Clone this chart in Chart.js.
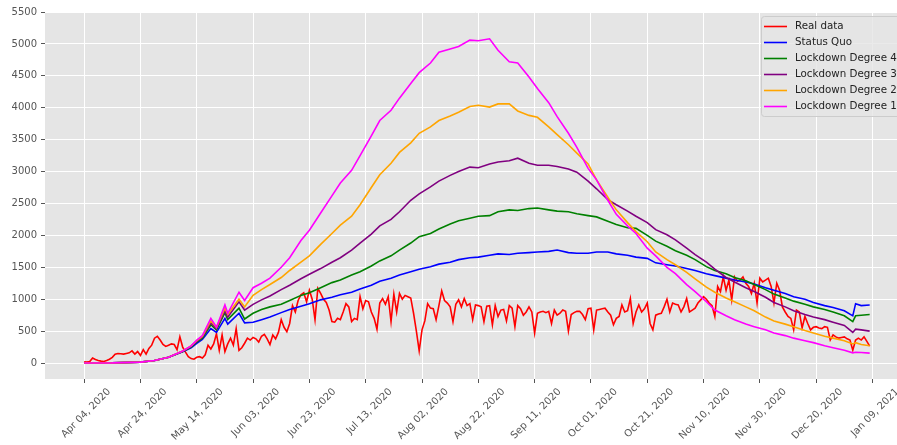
<!DOCTYPE html>
<html>
<head>
  <meta charset="utf-8" />
  <title>Real data vs lockdown scenarios</title>
  <style>
    html, body { margin: 0; padding: 0; overflow: hidden; background: #fff; }
  </style>
</head>
<body>
  <canvas id="stage" width="916" height="445"></canvas>

  <script src="https://cdn.jsdelivr.net/npm/chart.js@4.4.0/dist/chart.umd.min.js"></script>
  <script>
    // x axis: days since Apr 04, 2020
    const tickDays = [0, 20, 40, 60, 80, 100, 120, 140, 160, 180, 200, 220, 240, 260, 280];
    const tickLabels = ['Apr 04, 2020', 'Apr 24, 2020', 'May 14, 2020', 'Jun 03, 2020', 'Jun 23, 2020',
      'Jul 13, 2020', 'Aug 02, 2020', 'Aug 22, 2020', 'Sep 11, 2020', 'Oct 01, 2020', 'Oct 21, 2020',
      'Nov 10, 2020', 'Nov 30, 2020', 'Dec 20, 2020', 'Jan 09, 2021'];
    const yTicks = [0, 500, 1000, 1500, 2000, 2500, 3000, 3500, 4000, 4500, 5000, 5500];

    // real data, one value per day from day 0
    const realData = [
      20, 15, 25, 80, 55, 40, 30, 25, 40, 60,
      90, 140, 150, 145, 140, 150, 160, 190, 140, 180,
      120, 210, 140, 230, 280, 390, 420, 360, 290, 260,
      280, 300, 290, 210, 410, 250, 170, 100, 70, 60,
      90, 100, 80, 130, 280, 220, 300, 460, 200, 440,
      180, 300, 390, 280, 540, 200, 240, 310, 390, 360,
      400, 380, 330, 420, 450, 380, 290, 440, 380, 480,
      680, 560, 490, 620, 900, 800, 980, 1070, 1100, 960,
      1140, 1000, 680, 1170, 1090, 1000, 950, 830, 650, 640,
      700, 680, 800, 930, 880, 650, 700, 680, 1040, 850,
      980, 960, 800, 700, 530, 940, 1010, 920, 1040, 650,
      1080, 800, 1090, 1000, 1060, 1040, 1020, 780, 500, 190,
      520, 660, 930, 860, 850, 680, 900, 1130, 980, 940,
      880, 650, 920, 990, 880, 1010, 900, 930, 680, 910,
      900, 880, 650, 890, 900, 600, 900, 730, 830, 840,
      660, 900, 860, 570, 900, 850, 750, 800, 880, 800,
      470, 780, 800, 810, 790, 810, 620, 830, 750, 780,
      830, 810, 500, 760, 790, 810, 810, 760, 680, 850,
      860, 520, 830, 840, 850, 860, 800, 750, 600, 700,
      730, 910, 800, 820, 1010, 620, 800, 910, 800, 850,
      940, 620, 520, 750, 770, 780, 880, 1000, 800, 940,
      920, 910, 800, 880, 1010, 800, 830, 860, 940, 990,
      1040, 1000, 940, 900, 730, 1200, 1120, 1350, 1140, 1300,
      990, 1350, 1280, 1300, 1350, 1250, 1200, 1090, 1250, 940,
      1330, 1270, 1300, 1330, 1200, 940, 1250, 1140, 880, 800,
      730, 700, 520, 830, 800, 550, 730, 620, 520, 560,
      570, 550, 540, 570, 560, 360, 440, 410, 390, 400,
      410, 380, 360, 200, 360, 390, 360, 410, 340, 265
    ];

    // model scenarios, read at these days
    const modelDays = [
      0, 10, 20, 25, 30, 35, 38, 40, 42, 45, 47, 50, 51, 55, 57, 60, 63, 66, 70, 73,
      77, 80, 84, 88, 91, 95, 98, 102, 105, 109, 112, 116, 119, 123, 126, 130, 133, 137, 140, 144,
      147, 151, 154, 158, 161, 165, 168, 172, 175, 179, 182, 186, 189, 193, 196, 200, 203, 207, 210, 214,
      217, 221, 224, 228, 231, 235, 238, 242, 245, 249, 252, 256, 259, 263, 266, 270, 273, 274, 276, 279
    ];
    const statusQuo = [
      0, 2, 15, 40, 90, 175, 240, 310, 370, 540, 480, 700, 610, 780, 630, 640, 680, 720, 790, 840,
      890, 930, 990, 1030, 1070, 1110, 1160, 1220, 1280, 1330, 1380, 1430, 1470, 1510, 1550, 1580, 1620, 1650, 1660, 1690,
      1710, 1700, 1720, 1730, 1740, 1750, 1770, 1730, 1720, 1720, 1740, 1740, 1710, 1690, 1660, 1640, 1570, 1540, 1520, 1480,
      1450, 1400, 1370, 1330, 1300, 1270, 1240, 1180, 1140, 1090, 1040, 1000, 950, 900, 870, 820, 740, 930, 900, 910
    ];
    const degree4 = [
      0, 2, 15, 40, 90, 180, 250, 330, 390, 600, 520, 790, 680, 860, 690, 780, 840, 880, 920, 980,
      1060, 1100, 1180, 1260, 1300, 1380, 1430, 1520, 1600, 1680, 1770, 1880, 1980, 2030, 2100, 2180, 2230, 2270, 2300, 2310,
      2370, 2400, 2390, 2420, 2430, 2400, 2380, 2370, 2340, 2310, 2290, 2220, 2170, 2120, 2110, 2000, 1910, 1830, 1760, 1690,
      1620, 1510, 1450, 1400, 1340, 1290, 1230, 1150, 1080, 1020, 970, 920, 880, 840, 800, 740, 650, 740, 750, 760
    ];
    const degree3 = [
      0, 2, 15, 40, 90, 185, 260, 340, 410, 630, 540, 820, 720, 960, 830, 920, 990, 1050, 1150, 1220,
      1320, 1390, 1480, 1580, 1650, 1770, 1880, 2020, 2150, 2250, 2370, 2550, 2650, 2760, 2850, 2940, 3000, 3070, 3060, 3120,
      3150, 3170, 3210, 3130, 3100, 3100, 3080, 3040, 2990, 2850, 2730, 2560, 2480, 2380, 2300, 2200, 2090, 2010, 1930, 1800,
      1700, 1580, 1470, 1340, 1270, 1180, 1120, 1030, 950, 880, 820, 760, 720, 680, 640, 590, 480, 530, 520, 500
    ];
    const degree2 = [
      0, 2, 15, 40, 90, 190, 270, 350, 420, 660, 560, 860, 760, 1000, 880, 1060, 1150, 1230, 1340, 1450,
      1580, 1680, 1860, 2030, 2160, 2300, 2480, 2750, 2950, 3130, 3300, 3450, 3600, 3700, 3800, 3870, 3930, 4020, 4040, 4010,
      4060, 4060, 3950, 3880, 3850, 3700, 3580, 3420, 3290, 3120, 2870, 2600, 2400, 2200, 2060, 1900, 1740, 1620, 1540, 1420,
      1320, 1190, 1110, 1020, 960, 880, 820, 720, 660, 610, 570, 510, 470, 420, 390, 350, 300, 320, 290, 270
    ];
    const degree1 = [
      0, 2, 15, 40, 90, 190, 270, 360, 430, 700, 560, 910, 780, 1110, 980, 1180, 1250, 1330, 1500, 1650,
      1920, 2080, 2350, 2620, 2820, 3020, 3250, 3560, 3800, 3960, 4150, 4380, 4550, 4700, 4870, 4920, 4960, 5060, 5050, 5080,
      4900, 4720, 4700, 4480, 4300, 4080, 3860, 3600, 3380, 3050, 2870, 2550, 2330, 2150, 2030, 1800, 1680, 1500, 1400, 1230,
      1120, 960, 830, 740, 680, 610, 570, 520, 470, 430, 390, 350, 320, 270, 240, 200, 160, 170, 165, 155
    ];

    const seriesNames = ['Real data', 'Status Quo', 'Lockdown Degree 4', 'Lockdown Degree 3', 'Lockdown Degree 2', 'Lockdown Degree 1'];
    const seriesColors = ['#ff0000', '#0000ff', '#008000', '#800080', '#ffa500', '#ff00ff'];

    function toPoints(days, values) {
      return values.map((v, i) => ({ x: days[i], y: v }));
    }
    const realDays = realData.map((v, i) => i);
    const allSeries = [
      toPoints(realDays, realData),
      toPoints(modelDays, statusQuo),
      toPoints(modelDays, degree4),
      toPoints(modelDays, degree3),
      toPoints(modelDays, degree2),
      toPoints(modelDays, degree1)
    ];

    // grey panel behind the plot (ggplot look)
    const panelBg = {
      id: 'panelBg',
      beforeDraw(chart) {
        const a = chart.chartArea;
        const ctx = chart.ctx;
        ctx.save();
        ctx.fillStyle = '#e5e5e5';
        ctx.fillRect(a.left, a.top, a.right - a.left, a.bottom - a.top);
        ctx.restore();
      }
    };

    // legend box in the upper right corner, inside the plot
    const innerLegend = {
      id: 'innerLegend',
      afterDatasetsDraw(chart) {
        const a = chart.chartArea;
        const ctx = chart.ctx;
        const left = a.right - 145;
        const top = a.top + 4;
        ctx.save();
        ctx.fillStyle = 'rgba(229,229,229,0.8)';
        ctx.strokeStyle = '#cccccc';
        ctx.lineWidth = 1;
        ctx.beginPath();
        ctx.roundRect(left + 0.5, top + 0.5, 170, 100, 3);
        ctx.fill();
        ctx.stroke();
        ctx.font = '10.3px "DejaVu Sans"';
        ctx.textBaseline = 'middle';
        chart.data.datasets.forEach((ds, i) => {
          const y = top + 10.5 + i * 16;
          ctx.strokeStyle = ds.borderColor;
          ctx.lineWidth = 1.6;
          ctx.beginPath();
          ctx.moveTo(left + 3, y);
          ctx.lineTo(left + 26, y);
          ctx.stroke();
          ctx.fillStyle = '#222222';
          ctx.fillText(ds.label, left + 34, y);
        });
        ctx.restore();
      }
    };

    new Chart(document.getElementById('stage'), {
      type: 'line',
      data: {
        datasets: allSeries.map((pts, i) => ({
          label: seriesNames[i],
          data: pts,
          borderColor: seriesColors[i],
          backgroundColor: seriesColors[i],
          borderWidth: 1.6,
          pointRadius: 0,
          tension: 0,
          order: seriesNames.length - i
        }))
      },
      options: {
        responsive: false,
        animation: false,
        devicePixelRatio: 1,
        layout: { padding: { top: 12, right: 10, left: 0, bottom: 0 } },
        plugins: {
          legend: { display: false },
          tooltip: { enabled: false }
        },
        scales: {
          x: {
            type: 'linear',
            min: -13.9,
            max: 291.9,
            afterBuildTicks(scale) {
              scale.ticks = tickDays.map(v => ({ value: v }));
            },
            afterFit(scale) { scale.height = 66; },
            grid: { color: '#ffffff', lineWidth: 1, tickColor: '#555555', tickLength: 4 },
            border: { display: false },
            ticks: {
              autoSkip: false,
              maxRotation: 45,
              minRotation: 45,
              labelOffset: 25,
              padding: 3,
              color: '#555555',
              font: { family: 'DejaVu Sans', size: 10 },
              callback: v => tickLabels[tickDays.indexOf(v)]
            }
          },
          y: {
            min: -250,
            max: 5500,
            afterBuildTicks(scale) {
              scale.ticks = yTicks.map(v => ({ value: v }));
            },
            afterFit(scale) { scale.width = 45; },
            grid: { color: '#ffffff', lineWidth: 1, tickColor: '#555555', tickLength: 4 },
            border: { display: false },
            ticks: {
              padding: 4,
              color: '#555555',
              font: { family: 'DejaVu Sans', size: 10 },
              callback: v => String(v)
            }
          }
        }
      },
      plugins: [panelBg, innerLegend]
    });
  </script>
</body>
</html>
